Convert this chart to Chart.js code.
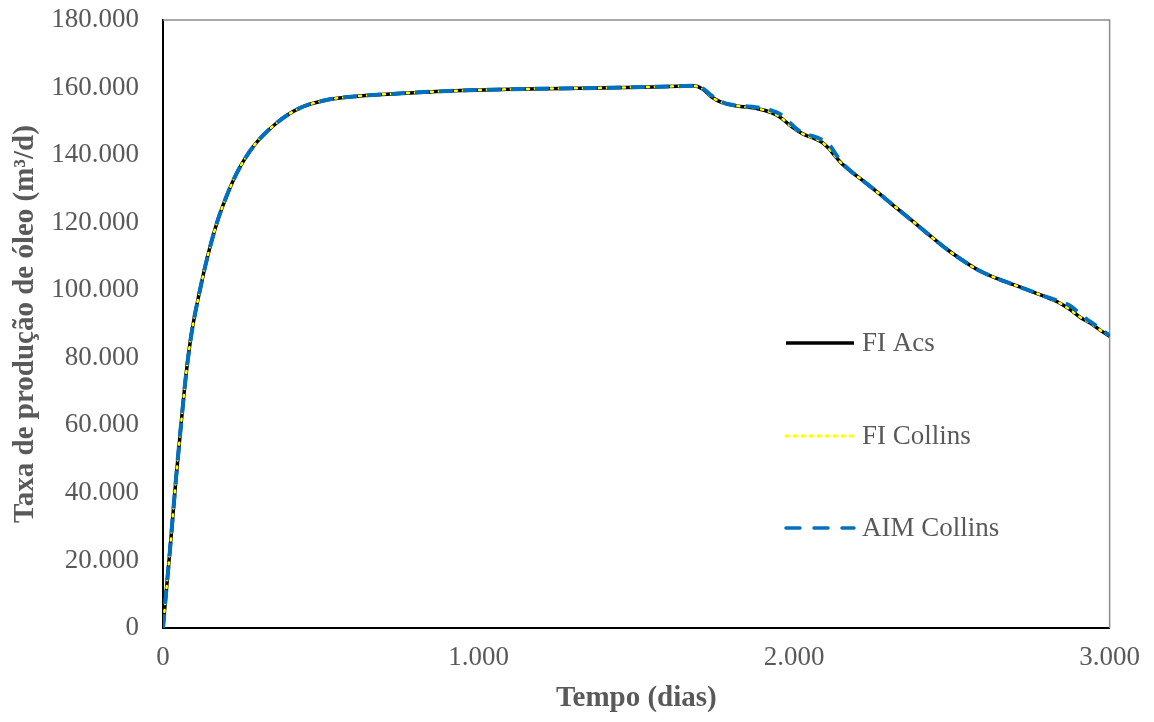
<!DOCTYPE html>
<html>
<head>
<meta charset="utf-8">
<script src="https://cdn.jsdelivr.net/npm/chart.js@4.4.0/dist/chart.umd.min.js"></script>
<style>
  html, body { margin: 0; padding: 0; background: #fff; }
  #wrap { width: 1154px; height: 722px; }
</style>
</head>
<body>
<div id="wrap"><canvas id="chart" width="1154" height="722"></canvas></div>
<script>
// tempo (dias)
const tempo = [0, 8, 22, 41, 60, 73, 90, 117, 140, 171, 200, 234, 285, 360, 433, 518, 623, 760, 907, 1100, 1382, 1550, 1634, 1680, 1710, 1739, 1770, 1802, 1840, 1878, 1928, 1955, 1982, 2010, 2036, 2060, 2087, 2110, 2130, 2150, 2172, 2220, 2267, 2320, 2371, 2425, 2479, 2530, 2583, 2640, 2688, 2740, 2795, 2836, 2877, 2910, 2940, 2970, 3000];
// FI Acs (mil m3/d)
const fiAcs = [0, 8.5, 23, 44, 63, 75, 87, 100, 109.5, 120, 127.5, 134.7, 142.4, 149.5, 153.9, 156.3, 157.5, 158.3, 159, 159.5, 159.9, 160.2, 160.4, 160.5, 159.6, 157.2, 155.6, 154.8, 154.3, 153.9, 152.6, 151.3, 149.2, 147.3, 145.9, 145.1, 143.9, 142, 139.7, 137.6, 135.8, 132.3, 128.8, 124.7, 120.8, 116.6, 112.5, 109.1, 106, 103.6, 101.9, 100.1, 98.1, 96.5, 94.1, 91.8, 90.2, 88.2, 86.4];
// FI Collins
const fiCollins = fiAcs.slice();
// AIM Collins
const aimCollins = [0, 8.5, 23, 44, 63, 75, 87, 100, 109.5, 120, 127.5, 134.7, 142.4, 149.5, 153.9, 156.3, 157.5, 158.3, 159, 159.5, 159.9, 160.2, 160.4, 160.5, 159.8, 157.6, 155.8, 154.9, 154.5, 154.2, 153.2, 152.2, 150, 147.6, 146.2, 145.6, 144.6, 143.2, 140.6, 137.9, 135.9, 132.3, 128.8, 124.7, 120.8, 116.6, 112.5, 109.1, 106, 103.6, 101.9, 100.1, 98.2, 96.9, 95.3, 92.6, 90.6, 88.6, 86.6];

const yTicks = [0, 20, 40, 60, 80, 100, 120, 140, 160, 180];
const xTicks = [0, 1000, 2000, 3000];

const toXY = (ys) => tempo.map((t, i) => ({ x: t, y: ys[i] * 1000 }));
function fmtThousand(v) {
  if (v === 0) return '0';
  const k = Math.floor(v / 1000);
  return k + '.' + String(v % 1000).padStart(3, '0');
}

const TXT = '#595959';
const FONT = '"Liberation Serif", "Times New Roman", serif';

const legendItems = [
  { label: 'FI Acs', color: '#000000', width: 3.5, dash: [], y: 343 },
  { label: 'FI Collins', color: '#ffff00', width: 3, dash: [3, 5], y: 436 },
  { label: 'AIM Collins', color: '#0070c0', width: 3.5, dash: [14, 14], y: 528 }
];

const legendPlugin = {
  id: 'legendBox',
  afterDraw(chart) {
    const ctx = chart.ctx;
    ctx.save();
    legendItems.forEach(it => {
      ctx.beginPath();
      ctx.strokeStyle = it.color;
      ctx.lineWidth = it.width;
      ctx.setLineDash(it.dash);
      ctx.lineCap = it.dash.length ? 'round' : 'butt';
      ctx.moveTo(786, it.y);
      ctx.lineTo(854, it.y);
      ctx.stroke();
      ctx.setLineDash([]);
      ctx.fillStyle = TXT;
      ctx.font = '27px ' + FONT;
      ctx.textBaseline = 'middle';
      ctx.fillText(it.label, 862, it.y + 1);
    });
    ctx.restore();
  }
};

const framePlugin = {
  id: 'frame',
  beforeDatasetsDraw(chart) {
    const a = chart.chartArea, ctx = chart.ctx;
    ctx.save();
    ctx.strokeStyle = '#8c8c8c';
    ctx.lineWidth = 1.5;
    ctx.beginPath();
    ctx.moveTo(a.left, a.top);
    ctx.lineTo(a.right, a.top);
    ctx.lineTo(a.right, a.bottom);
    ctx.stroke();
    ctx.restore();
  }
};

new Chart(document.getElementById('chart'), {
  type: 'line',
  data: {
    datasets: [
      { label: 'FI Acs', data: toXY(fiAcs), borderColor: '#000000', borderWidth: 3.5, pointRadius: 0, cubicInterpolationMode: 'monotone', order: 3 },
      { label: 'FI Collins', data: toXY(fiCollins), borderColor: '#ffff00', borderWidth: 2.5, borderDash: [2, 6], borderCapStyle: 'round', pointRadius: 0, cubicInterpolationMode: 'monotone', order: 2 },
      { label: 'AIM Collins', data: toXY(aimCollins), borderColor: '#0070c0', borderWidth: 4, borderDash: [14, 10], pointRadius: 0, cubicInterpolationMode: 'monotone', order: 1 }
    ]
  },
  options: {
    responsive: false,
    animation: false,
    layout: { padding: { top: 20, right: 42, left: 0, bottom: 0 } },
    plugins: { legend: { display: false }, tooltip: { enabled: false } },
    scales: {
      x: {
        type: 'linear', min: 0, max: 3000,
        afterBuildTicks: (s) => { s.ticks = xTicks.map(v => ({ value: v })); },
        afterFit: (s) => { s.height = 94; },
        grid: { display: false, drawTicks: false },
        border: { display: true, color: '#000000', width: 2 },
        ticks: { color: TXT, font: { family: FONT, size: 27 }, padding: 14, maxRotation: 0, callback: (v) => fmtThousand(v) },
        title: { display: true, text: 'Tempo (dias)', color: TXT, font: { family: FONT, size: 29, weight: 'bold' }, padding: { top: 2, bottom: 6 } }
      },
      y: {
        min: 0, max: 180000,
        afterBuildTicks: (s) => { s.ticks = yTicks.map(v => ({ value: v * 1000 })); },
        afterFit: (s) => { s.width = 163; s.paddingTop = 0; s.paddingBottom = 0; },
        grid: { display: false, drawTicks: false },
        border: { display: true, color: '#000000', width: 2 },
        ticks: { color: TXT, font: { family: FONT, size: 27 }, padding: 24, callback: (v) => fmtThousand(v) },
        title: { display: true, text: 'Taxa de produção de óleo (m³/d)', color: TXT, font: { family: FONT, size: 29, weight: 'bold' }, padding: { top: 8, bottom: 0 } }
      }
    }
  },
  plugins: [framePlugin, legendPlugin]
});
</script>
</body>
</html>
